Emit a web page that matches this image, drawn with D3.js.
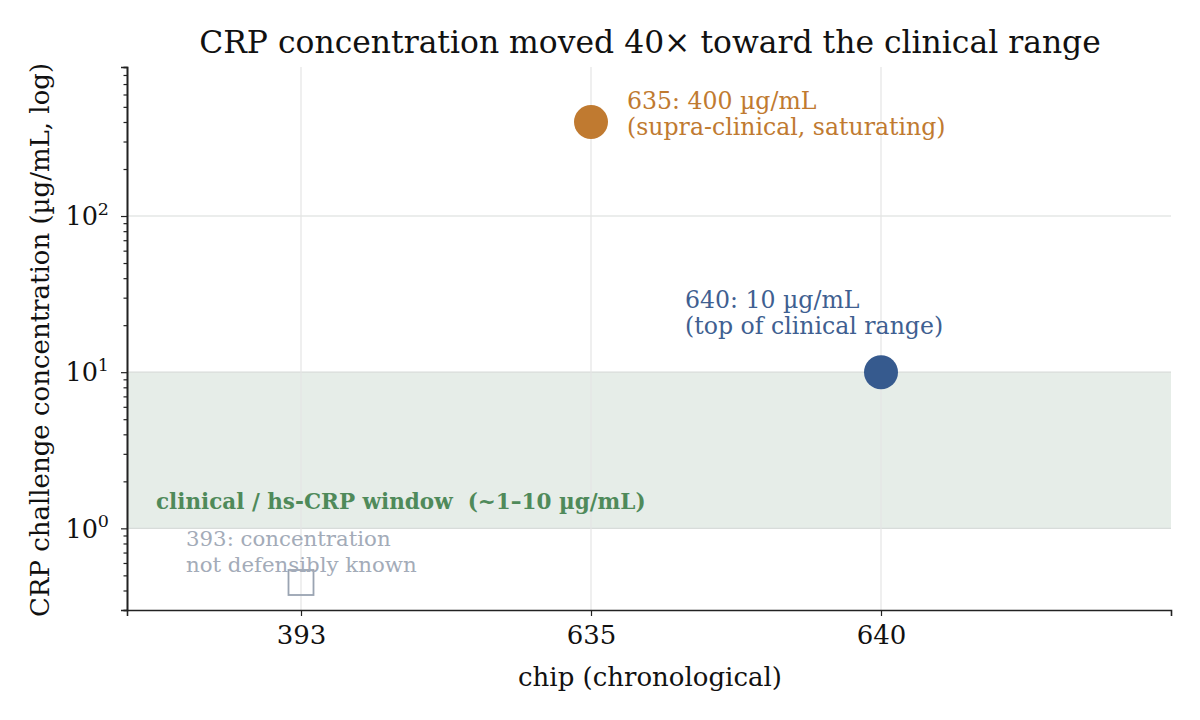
<!DOCTYPE html>
<html>
<head>
<meta charset="utf-8">
<script src="https://cdn.jsdelivr.net/npm/d3@7"></script>
<style>
  body { margin: 0; background: #fff; }
  svg { font-family: "DejaVu Serif", serif; }
</style>
</head>
<body>
<svg id="chart" width="1200" height="720"></svg>
<script>
// data
const chips = ['393', '635', '640'];
const concentrations = [0.45, 400, 10];
const markerKinds = ['open', 'filled', 'filled'];
const pointColors = ['#9aa4b2', '#c07a30', '#365a8e'];
const noteLines = [
  ['393: concentration', 'not defensibly known'],
  ['635: 400 µg/mL', '(supra-clinical, saturating)'],
  ['640: 10 µg/mL', '(top of clinical range)']
];
const noteColors = ['#a3abb8', '#c07a30', '#3f5f91'];
const noteSizes = [21.3, 23.6, 23.6];
const noteOffsets = [[-115, -37], [36, -13], [-196, -64]];
const clinicalBand = [1, 10];
const bandLabel = 'clinical / hs-CRP window  (~1–10 µg/mL)';
const yDomain = [0.3, 900];
const xDomain = [-0.6, 3.0];

const svg = d3.select('#chart');
const margin = { top: 67, right: 29, bottom: 110, left: 127 };
const width = 1200 - margin.left - margin.right;
const height = 720 - margin.top - margin.bottom;

const x = d3.scaleLinear().domain(xDomain).range([0, width]);
const y = d3.scaleLog().domain(yDomain).range([height, 0]);

const root = svg.append('g').attr('transform', `translate(${margin.left},${margin.top})`);

// clinical band
root.append('rect')
  .attr('x', 0)
  .attr('width', width)
  .attr('y', y(clinicalBand[1]))
  .attr('height', y(clinicalBand[0]) - y(clinicalBand[1]))
  .attr('fill', '#e6ede8');

// grid
const majors = [1, 10, 100];
root.append('g').selectAll('line').data(majors).enter().append('line')
  .attr('x1', 0).attr('x2', width)
  .attr('y1', d => y(d)).attr('y2', d => y(d))
  .attr('stroke', '#d8dcda').attr('stroke-width', 1.2);
root.append('g').selectAll('line').data(chips).enter().append('line')
  .attr('x1', (d, i) => x(i)).attr('x2', (d, i) => x(i))
  .attr('y1', 0).attr('y2', height)
  .attr('stroke', '#e4e4e4').attr('stroke-width', 1.2);

// band label
root.append('text')
  .attr('x', x(-0.5))
  .attr('y', 509 - margin.top)
  .attr('fill', '#4f8a5a')
  .attr('font-weight', 'bold')
  .attr('font-size', 21.5)
  .style('white-space', 'pre')
  .text(bandLabel);

// axes
const xAxis = d3.axisBottom(x).tickValues([0, 1, 2]).tickFormat(i => chips[i]).tickSize(6).tickPadding(10);
const gx = root.append('g').attr('transform', `translate(0,${height})`).call(xAxis);

const minorVals = [];
for (let e = -1; e <= 2; e++) {
  for (let m = 1; m <= 9; m++) {
    const v = m * Math.pow(10, e);
    if (v >= yDomain[0] && v <= yDomain[1] && m !== 1) minorVals.push(v);
  }
}
const gyMinor = root.append('g').call(d3.axisLeft(y).tickValues(minorVals).tickFormat('').tickSize(3.5));
const gy = root.append('g').call(d3.axisLeft(y).tickValues(majors).tickFormat('').tickSize(6));

[gx, gy, gyMinor].forEach(g => {
  g.select('.domain').attr('stroke', '#222').attr('stroke-width', 1.6);
  g.selectAll('.tick line').attr('stroke', '#222').attr('stroke-width', 1.2);
  g.selectAll('.tick text').attr('fill', '#111').attr('font-size', 26).attr('font-family', '"DejaVu Serif", serif');
});

// y tick labels as 10^n
majors.forEach(v => {
  const t = root.append('text')
    .attr('x', -18)
    .attr('y', y(v))
    .attr('dy', '0.36em')
    .attr('text-anchor', 'end')
    .attr('fill', '#111')
    .attr('font-size', 25.5);
  t.append('tspan').text('10');
  t.append('tspan').attr('dy', '-0.6em').attr('font-size', 17.5).text(Math.round(Math.log10(v)));
});

// points
chips.forEach((c, i) => {
  const cx = x(i), cy = y(concentrations[i]);
  if (markerKinds[i] === 'open') {
    root.append('rect')
      .attr('x', cx - 12.5).attr('y', cy - 12.5)
      .attr('width', 25).attr('height', 25)
      .attr('fill', 'none')
      .attr('stroke', pointColors[i])
      .attr('stroke-width', 1.8);
  } else {
    root.append('circle')
      .attr('cx', cx).attr('cy', cy).attr('r', 17)
      .attr('fill', pointColors[i]);
  }
  const note = root.append('text')
    .attr('x', cx + noteOffsets[i][0])
    .attr('y', cy + noteOffsets[i][1])
    .attr('fill', noteColors[i])
    .attr('font-size', noteSizes[i]);
  noteLines[i].forEach((line, k) => {
    note.append('tspan')
      .attr('x', cx + noteOffsets[i][0])
      .attr('dy', k === 0 ? 0 : 26)
      .text(line);
  });
});

// labels
svg.append('text')
  .attr('x', 650)
  .attr('y', 53)
  .attr('text-anchor', 'middle')
  .attr('font-size', 31.4)
  .attr('fill', '#111')
  .text('CRP concentration moved 40× toward the clinical range');

svg.append('text')
  .attr('x', 650)
  .attr('y', 686)
  .attr('text-anchor', 'middle')
  .attr('font-size', 26)
  .attr('fill', '#111')
  .text('chip (chronological)');

svg.append('text')
  .attr('transform', 'translate(49,340) rotate(-90)')
  .attr('text-anchor', 'middle')
  .attr('font-size', 26)
  .attr('fill', '#111')
  .text('CRP challenge concentration (µg/mL, log)');
</script>
</body>
</html>
